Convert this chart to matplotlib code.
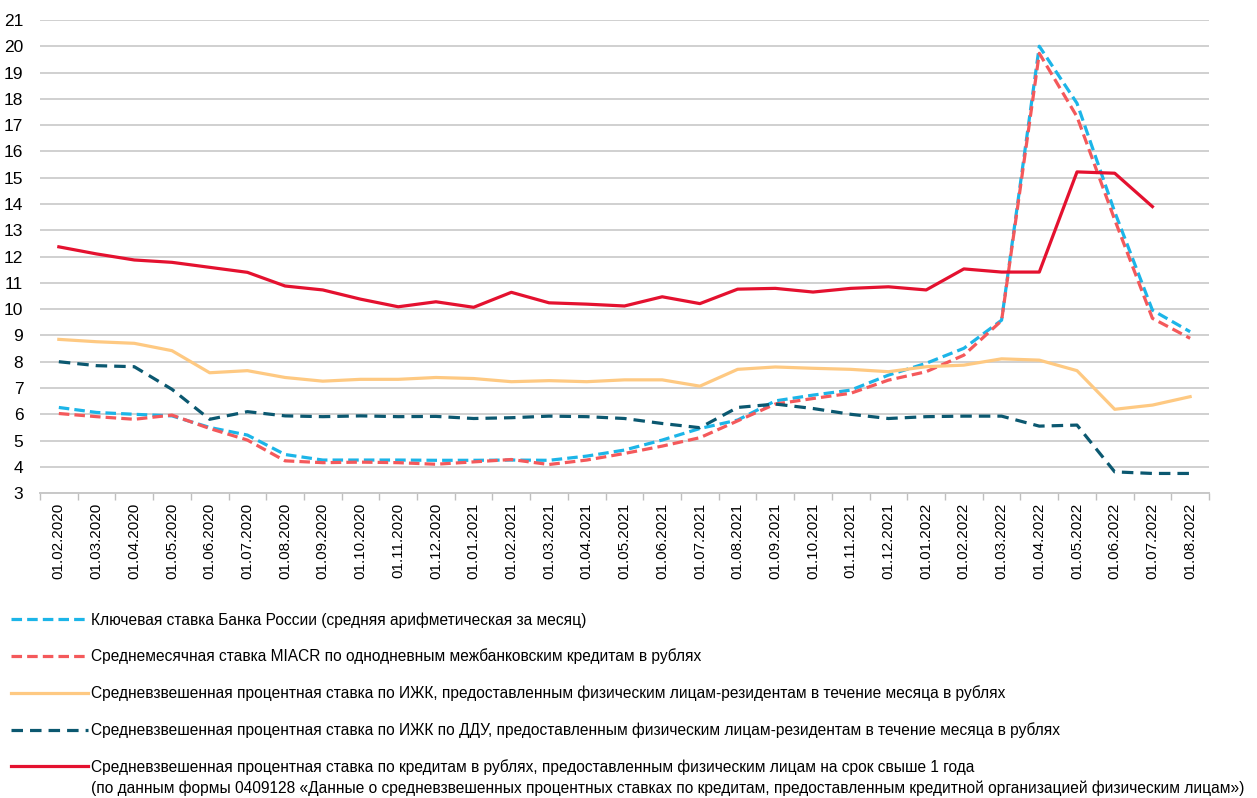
import numpy as np
import matplotlib.pyplot as plt

plt.rcParams['font.family'] = ['Liberation Sans Narrow', 'Liberation Sans', 'DejaVu Sans']

# даты (первое число месяца)
dates = ["01.02.2020", "01.03.2020", "01.04.2020", "01.05.2020", "01.06.2020", "01.07.2020",
         "01.08.2020", "01.09.2020", "01.10.2020", "01.11.2020", "01.12.2020", "01.01.2021",
         "01.02.2021", "01.03.2021", "01.04.2021", "01.05.2021", "01.06.2021", "01.07.2021",
         "01.08.2021", "01.09.2021", "01.10.2021", "01.11.2021", "01.12.2021", "01.01.2022",
         "01.02.2022", "01.03.2022", "01.04.2022", "01.05.2022", "01.06.2022", "01.07.2022",
         "01.08.2022"]

# ключевая ставка
key_rate = [6.26, 6.07, 6.00, 5.94, 5.50, 5.21, 4.47, 4.26, 4.26, 4.26, 4.25, 4.25,
            4.26, 4.25, 4.41, 4.64, 5.02, 5.46, 5.78, 6.51, 6.73, 6.92, 7.49, 7.94,
            8.51, 9.58, 20.0, 17.83, 13.7, 9.96, 9.14]

# MIACR
miacr = [6.03, 5.91, 5.81, 5.97, 5.46, 5.02, 4.23, 4.16, 4.18, 4.16, 4.10, 4.19,
         4.28, 4.09, 4.26, 4.51, 4.79, 5.11, 5.75, 6.39, 6.60, 6.80, 7.30, 7.62,
         8.25, 9.56, 19.73, 17.32, 13.4, 9.65, 8.89]

# ИЖК
izhk = [8.85, 8.76, 8.70, 8.42, 7.58, 7.66, 7.40, 7.26, 7.33, 7.33, 7.40, 7.36,
        7.24, 7.28, 7.24, 7.31, 7.31, 7.07, 7.71, 7.80, 7.75, 7.71, 7.62, 7.81,
        7.87, 8.11, 8.06, 7.66, 6.19, 6.35, 6.67]

# ИЖК по ДДУ
izhk_ddu = [8.00, 7.85, 7.81, 6.95, 5.81, 6.10, 5.94, 5.91, 5.94, 5.91, 5.92, 5.84,
            5.87, 5.93, 5.91, 5.84, 5.65, 5.49, 6.26, 6.39, 6.22, 6.00, 5.84, 5.91,
            5.93, 5.93, 5.55, 5.59, 3.81, 3.75, 3.75]

# кредиты свыше 1 года (нет данных за 01.08.2022)
credit = [12.37, 12.10, 11.87, 11.78, 11.59, 11.40, 10.88, 10.73, 10.38, 10.09, 10.28, 10.07,
          10.64, 10.24, 10.19, 10.12, 10.47, 10.21, 10.76, 10.79, 10.65, 10.79, 10.85, 10.73,
          11.53, 11.41, 11.41, 15.22, 15.17, 13.90, np.nan]

labels = [
    "Ключевая ставка Банка России (средняя арифметическая за месяц)",
    "Среднемесячная ставка MIACR по однодневным межбанковским кредитам в рублях",
    "Средневзвешенная процентная ставка по ИЖК, предоставленным физическим лицам-резидентам в течение месяца в рублях",
    "Средневзвешенная процентная ставка по ИЖК по ДДУ, предоставленным физическим лицам-резидентам в течение месяца в рублях",
    "Средневзвешенная процентная ставка по кредитам в рублях, предоставленным физическим лицам на срок свыше 1 года",
]
label_note = ("(по данным формы 0409128 «Данные о средневзвешенных процентных ставках по кредитам, "
              "предоставленным кредитной организацией физическим лицам»)")

x = np.arange(len(dates))

fig = plt.figure(figsize=(12.57, 7.98), dpi=100)
ax = fig.add_axes([0.0318, 0.382, 0.930, 0.593])

lw = 2.3
ax.plot(x, key_rate, color="#1CB5E8", lw=lw, dashes=(3.3, 1.6), label=labels[0])
ax.plot(x, miacr, color="#F4595B", lw=lw, dashes=(3.3, 1.6), label=labels[1])
ax.plot(x, izhk, color="#FEC982", lw=lw, label=labels[2])
ax.plot(x, izhk_ddu, color="#0B5870", lw=lw, dashes=(3.6, 2.2), label=labels[3])
ax.plot(x, credit, color="#E4112F", lw=lw, label=labels[4])

ax.set_xlim(-0.5, len(dates) - 0.5)
ax.set_ylim(3, 21)
ax.set_yticks(range(3, 22))
ax.set_xticks(x)
ax.set_xticklabels(dates, rotation=90, fontsize=11)
ax.set_xticks(np.arange(-0.5, len(dates), 1), minor=True)
ax.tick_params(axis='x', which='major', length=0, pad=7)
ax.tick_params(axis='x', which='minor', length=5, color="#BFBFBF", width=1)
ax.tick_params(axis='y', length=0, pad=12, labelsize=12.5)

ax.grid(axis='y', color="#D0D0D0", lw=1.4)
ax.set_axisbelow(True)
for s in ['top', 'right', 'left']:
    ax.spines[s].set_visible(False)
ax.spines['bottom'].set_color("#C8C8C8")
ax.spines['bottom'].set_linewidth(1.4)

leg = fig.legend(loc='upper left', bbox_to_anchor=(0.009, 0.233), frameon=False,
                 fontsize=11.2, handlelength=4.9, handletextpad=0.25, labelspacing=1.35,
                 borderaxespad=0, borderpad=0)

# вторая строка последней подписи — под первой строкой
fig.canvas.draw()
bb = leg.get_texts()[-1].get_window_extent()
W, H = fig.bbox.width, fig.bbox.height
fig.text(bb.x0 / W, (bb.y0 - 6) / H, label_note, fontsize=11.2, ha='left', va='top')

plt.savefig("out.png", dpi=100)
